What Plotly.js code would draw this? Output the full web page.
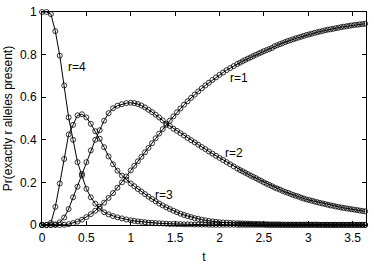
<!DOCTYPE html>
<html>
<head>
<meta charset="utf-8">
<script src="https://cdn.plot.ly/plotly-3.0.1.min.js"></script>
<style>
html,body{margin:0;padding:0;background:#fff;}
#chart{width:374px;height:264px;}
</style>
</head>
<body>
<div id="chart"></div>
<script>
// time grid of the plotted sample points
var t = [
  0, 0.05, 0.10, 0.15, 0.20, 0.25, 0.30, 0.35, 0.40, 0.45, 0.50, 0.55, 0.60, 0.65, 0.70, 0.75, 0.80, 0.85, 0.90, 0.95, 1.00,
  1.04, 1.08, 1.12, 1.16, 1.20, 1.24, 1.28, 1.32, 1.36, 1.40, 1.44, 1.48, 1.52, 1.56, 1.60, 1.64, 1.68, 1.72, 1.76, 1.80,
  1.84, 1.88, 1.92, 1.96, 2.00, 2.04, 2.08, 2.12, 2.16, 2.20,
  2.23, 2.26, 2.29, 2.32, 2.35, 2.38, 2.41, 2.44, 2.47, 2.50, 2.53, 2.56, 2.59, 2.62, 2.65, 2.68, 2.71, 2.74, 2.77, 2.80,
  2.83, 2.86, 2.89, 2.92, 2.95, 2.98, 3.01, 3.04, 3.07, 3.10, 3.13, 3.16, 3.19, 3.22, 3.25, 3.28, 3.31, 3.34, 3.37, 3.40,
  3.43, 3.46, 3.49, 3.52, 3.55, 3.58, 3.61, 3.64
];

var r4 = [
  1, 1, 0.99, 0.91, 0.795, 0.655, 0.505, 0.40, 0.295, 0.232, 0.17, 0.13, 0.10, 0.077, 0.06, 0.05, 0.042, 0.036, 0.031, 0.026, 0.022,
  0.019, 0.017, 0.015, 0.013, 0.011, 0.010, 0.009, 0.008, 0.007, 0.006, 0.005, 0.005, 0.004, 0.004, 0.003, 0.003, 0.003, 0.002, 0.002, 0.002,
  0.002, 0.001, 0.001, 0.001, 0.001, 0.001, 0.001, 0.001, 0.001, 0.001,
  0.001, 0.001, 0.001, 0.001, 0.001, 0.001, 0.001, 0.001, 0.001, 0.001, 0, 0, 0, 0, 0, 0, 0, 0, 0, 0,
  0, 0, 0, 0, 0, 0, 0, 0, 0, 0, 0, 0, 0, 0, 0, 0, 0, 0, 0, 0,
  0, 0, 0, 0, 0, 0, 0, 0
];

var r3 = [
  0, 0, 0.01, 0.085, 0.195, 0.31, 0.425, 0.47, 0.515, 0.52, 0.505, 0.475, 0.44, 0.405, 0.365, 0.322, 0.285, 0.255, 0.232, 0.212, 0.195,
  0.182, 0.169, 0.157, 0.145, 0.133, 0.122, 0.111, 0.101, 0.092, 0.083, 0.075, 0.067, 0.060, 0.053, 0.047, 0.042, 0.037, 0.032, 0.029, 0.025,
  0.022, 0.019, 0.017, 0.015, 0.013, 0.012, 0.011, 0.010, 0.009, 0.008,
  0.008, 0.007, 0.007, 0.006, 0.006, 0.005, 0.005, 0.005, 0.004, 0.004, 0.004, 0.003, 0.003, 0.003, 0.003, 0.003, 0.002, 0.002, 0.002, 0.002,
  0.002, 0.002, 0.002, 0.002, 0.002, 0.002, 0.002, 0.002, 0.002, 0.002, 0.001, 0.001, 0.001, 0.001, 0.001, 0.001, 0.001, 0.001, 0.001, 0.001,
  0.001, 0.001, 0.001, 0.001, 0.001, 0.001, 0.001, 0.001
];

var r2 = [
  0, 0, 0, 0.003, 0.013, 0.035, 0.075, 0.13, 0.18, 0.24, 0.295, 0.35, 0.40, 0.445, 0.49, 0.525, 0.548, 0.56, 0.567, 0.572, 0.574,
  0.572, 0.568, 0.561, 0.552, 0.541, 0.530, 0.518, 0.505, 0.491, 0.476, 0.465, 0.452, 0.442, 0.431, 0.420, 0.409, 0.398, 0.388, 0.377, 0.366,
  0.356, 0.345, 0.335, 0.325, 0.315, 0.305, 0.295, 0.285, 0.275, 0.265,
  0.258, 0.252, 0.245, 0.239, 0.232, 0.226, 0.220, 0.213, 0.207, 0.200, 0.194, 0.188, 0.182, 0.176, 0.171, 0.166, 0.160, 0.155, 0.151, 0.146,
  0.141, 0.137, 0.133, 0.128, 0.124, 0.120, 0.117, 0.114, 0.110, 0.107, 0.104, 0.101, 0.098, 0.095, 0.092, 0.090, 0.087, 0.085, 0.082, 0.080,
  0.078, 0.076, 0.074, 0.072, 0.070, 0.068, 0.066, 0.064
];

var r1 = [
  0, 0, 0, 0, 0, 0.001, 0.004, 0.009, 0.016, 0.025, 0.037, 0.051, 0.067, 0.086, 0.105, 0.127, 0.15, 0.175, 0.2, 0.228, 0.256,
  0.278, 0.299, 0.320, 0.341, 0.362, 0.384, 0.407, 0.429, 0.450, 0.470, 0.490, 0.510, 0.529, 0.547, 0.565, 0.581, 0.597, 0.612, 0.627, 0.642,
  0.655, 0.668, 0.681, 0.693, 0.705, 0.716, 0.727, 0.737, 0.746, 0.756,
  0.762, 0.769, 0.775, 0.781, 0.787, 0.793, 0.799, 0.805, 0.810, 0.816, 0.821, 0.826, 0.831, 0.839, 0.844, 0.849, 0.854, 0.859, 0.864, 0.868,
  0.872, 0.876, 0.880, 0.884, 0.888, 0.892, 0.895, 0.898, 0.902, 0.905, 0.908, 0.911, 0.914, 0.917, 0.919, 0.921, 0.924, 0.926, 0.929, 0.931,
  0.933, 0.935, 0.937, 0.939, 0.940, 0.942, 0.943, 0.945
];

var seriesNames = ['r=1', 'r=2', 'r=3', 'r=4'];
var seriesValues = [r1, r2, r3, r4];

// curve labels: text and anchor positions (t, probability)
var labelText = ['r=4', 'r=1', 'r=2', 'r=3'];
var labelT = [0.39, 2.22, 2.165, 1.372];
var labelP = [0.744, 0.692, 0.339, 0.139];

var xTicks = [0, 0.5, 1, 1.5, 2, 2.5, 3, 3.5];
var yTicks = [0, 0.2, 0.4, 0.6, 0.8, 1];

var FONT = 'Liberation Sans, Arial, Helvetica, sans-serif';

var traces = seriesValues.map(function (vals, i) {
  return {
    x: t,
    y: vals,
    name: seriesNames[i],
    type: 'scatter',
    mode: 'lines+markers',
    line: {color: '#000', width: 1},
    marker: {symbol: 'circle-open', size: 5, color: '#000', line: {color: '#000', width: 0.8}},
    cliponaxis: false,
    showlegend: false
  };
});

var annotations = labelText.map(function (s, i) {
  return {
    x: labelT[i], y: labelP[i], xref: 'x', yref: 'y',
    text: s, showarrow: false,
    font: {family: FONT, size: 12, color: '#000'},
    xanchor: 'center', yanchor: 'middle'
  };
});

var axisCommon = {
  showgrid: false,
  zeroline: false,
  showline: true,
  linecolor: '#000',
  linewidth: 1,
  mirror: 'ticks',
  ticks: 'inside',
  ticklen: 4,
  tickwidth: 1,
  tickcolor: '#000',
  tickfont: {family: FONT, size: 12, color: '#000'}
};

var layout = {
  width: 374,
  height: 264,
  margin: {l: 42, r: 8, t: 12, b: 39, pad: 0},
  paper_bgcolor: '#fff',
  plot_bgcolor: '#fff',
  font: {family: FONT, size: 12, color: '#000'},
  xaxis: Object.assign({}, axisCommon, {
    range: [0, 3.65],
    tickmode: 'array',
    tickvals: xTicks,
    ticklabelstandoff: 2,
    title: {text: 't', font: {family: FONT, size: 12, color: '#000'}, standoff: 8}
  }),
  yaxis: Object.assign({}, axisCommon, {
    range: [0, 1],
    tickmode: 'array',
    tickvals: yTicks,
    ticklabelstandoff: 2,
    title: {text: 'Pr(exactly r alleles present)', font: {family: FONT, size: 12, color: '#000'}, standoff: 4}
  }),
  annotations: annotations
};

Plotly.newPlot('chart', traces, layout, {displayModeBar: false, staticPlot: true});
</script>
</body>
</html>
